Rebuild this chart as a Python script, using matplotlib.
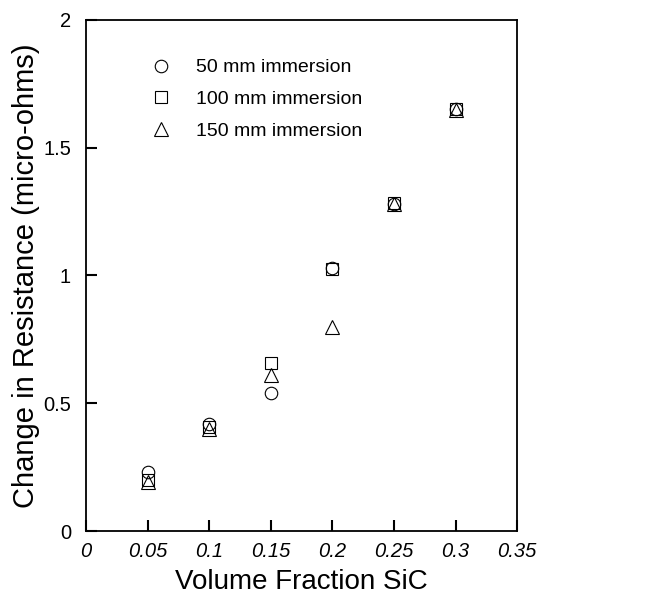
import matplotlib
matplotlib.use("Agg")
import matplotlib.pyplot as plt

plt.rcParams['font.family'] = ['Liberation Sans', 'DejaVu Sans']

# data
vf = [0.05, 0.1, 0.15, 0.2, 0.25, 0.3]
r50 = [0.232, 0.42, 0.54, 1.03, 1.28, 1.65]
r100 = [0.20, 0.405, 0.657, 1.025, 1.285, 1.65]
r150 = [0.193, 0.40, 0.61, 0.80, 1.28, 1.648]
labels = ['50 mm immersion', '100 mm immersion', '150 mm immersion']

xticks = [0, 0.05, 0.1, 0.15, 0.2, 0.25, 0.3, 0.35]
xticklabels = ['0', '0.05', '0.1', '0.15', '0.2', '0.25', '0.3', '0.35']
yticks = [0, 0.5, 1, 1.5, 2]
yticklabels = ['0', '0.5', '1', '1.5', '2']

fig = plt.figure(figsize=(6.48, 5.98), dpi=100)
ax = fig.add_axes([0.133, 0.112, 0.665, 0.855])

mk = dict(linestyle='none', mfc='none', mec='black', mew=0.8)
ax.plot(vf, r50, marker='o', ms=9, label=labels[0], **mk)
ax.plot(vf, r100, marker='s', ms=8, label=labels[1], **mk)
ax.plot(vf, r150, marker='^', ms=9.5, label=labels[2], **mk)

ax.set_xlim(0, 0.35)
ax.set_ylim(0, 2)
ax.set_xticks(xticks)
ax.set_xticklabels(xticklabels, fontsize=14.5, style='italic')
ax.set_yticks(yticks)
ax.set_yticklabels(yticklabels, fontsize=14.5)
ax.tick_params(direction='in', length=8, width=1.5, top=False, right=False, pad=8)
ax.tick_params(axis='y', pad=11)
for s in ax.spines.values():
    s.set_linewidth(1.3)

ax.set_xlabel('Volume Fraction SiC', fontsize=20, labelpad=6)
ax.set_ylabel('Change in Resistance (micro-ohms)', fontsize=21, labelpad=2)

ax.legend(loc='upper left', bbox_to_anchor=(0.105, 0.958), frameon=False, fontsize=14,
          handletextpad=1.2, labelspacing=0.72, handlelength=1.2)

fig.savefig('out.png', dpi=100)
